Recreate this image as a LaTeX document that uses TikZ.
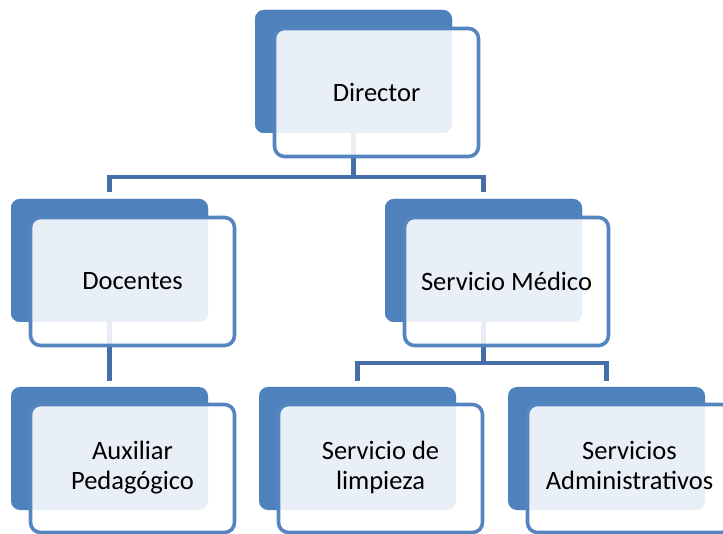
\documentclass[tikz,border=0pt]{standalone}
\usepackage{fontspec}
\setmainfont{Carlito}
\definecolor{bblue}{HTML}{4F81BD}
\definecolor{fblue}{HTML}{5585C0}
\definecolor{cblue}{HTML}{446EA5}
\begin{document}
\begin{tikzpicture}[x=1pt,y=-1pt,
  backbox/.style={draw=none, fill=bblue, rounded corners=9pt, minimum width=197pt, minimum height=123pt, inner sep=0pt},
  frontbox/.style={draw=fblue, line width=3.6pt, fill=white, fill opacity=0.88, text opacity=1, draw opacity=1, rounded corners=10pt, minimum width=204pt, minimum height=128pt, inner sep=0pt, align=center, font=\fontsize{26.5}{30}\selectfont},
  conn/.style={draw=cblue, line width=4.5pt}]
\useasboundingbox (0,0) rectangle (723,534);
\clip (0,0) rectangle (723,534);
% back boxes
\node[backbox] (dirB) at (353.5,71.5) {};
\node[backbox] (docB) at (109.5,260.5) {};
\node[backbox] (medB) at (483.5,260.5) {};
\node[backbox] (auxB) at (109.5,448.5) {};
\node[backbox] (limB) at (357.5,448.5) {};
\node[backbox] (admB) at (606.5,448.5) {};
% connectors
\draw[conn, shorten >=7pt] (dirB.south) -- ++(0,44) -| (docB.north);
\draw[conn, shorten >=7pt] (dirB.south) -- ++(0,44) -| (medB.north);
\draw[conn, shorten >=6pt] (docB.south) -- (auxB.north);
\draw[conn, shorten >=6pt] (medB.south) -- ++(0,41) -| (limB.north);
\draw[conn, shorten >=6pt] (medB.south) -- ++(0,41) -| (admB.north);
% redraw back boxes over connector starts
\node[backbox] at (dirB) {};
\node[backbox] at (docB) {};
\node[backbox] at (medB) {};
% front boxes
\node[frontbox] (dirF) at (376.5,92.5) {Director};
\node[frontbox] (docF) at (132.5,281.5) {Docentes};
\node[frontbox] (medF) at (506.5,281.5) {Servicio Médico};
\node[frontbox] (auxF) at (132.5,468.5) {\raisebox{-3pt}{\begin{tabular}{@{}c@{}}Auxiliar\\Pedagógico\end{tabular}}};
\node[frontbox] (limF) at (380.5,468.5) {\raisebox{-3pt}{\begin{tabular}{@{}c@{}}Servicio de\\limpieza\end{tabular}}};
\node[frontbox] (admF) at (629.5,468.5) {\raisebox{-3pt}{\begin{tabular}{@{}c@{}}Servicios\\Administrativos\end{tabular}}};
\end{tikzpicture}
\end{document}
